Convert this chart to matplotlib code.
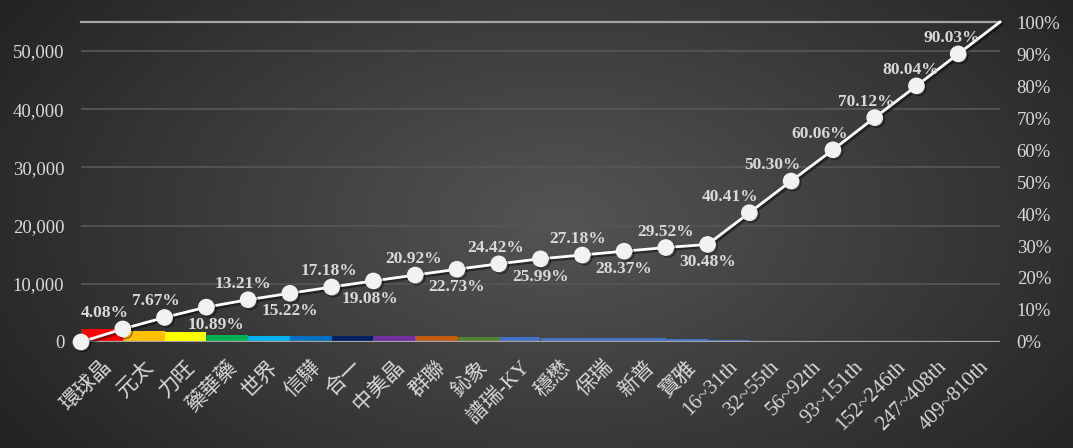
import numpy as np
import matplotlib
matplotlib.use('Agg')
import matplotlib.pyplot as plt
import matplotlib.patheffects as pe
from matplotlib.colors import LinearSegmentedColormap

categories = ['環球晶', '元太', '力旺', '藥華藥', '世界', '信驊', '合一', '中美晶', '群聯',
              '鈊象', '譜瑞-KY', '穩懋', '保瑞', '新普', '寶雅', '16~31th', '32~55th',
              '56~92th', '93~151th', '152~246th', '247~408th', '409~810th']
bar_values = [2244, 1975, 1771, 1276, 1106, 1078, 1045, 1012, 996, 930, 864, 655, 655,
              633, 528, 341, 227, 145, 94, 57, 34, 14]
cum_pct = [0, 4.08, 7.67, 10.89, 13.21, 15.22, 17.18, 19.08, 20.92, 22.73, 24.42, 25.99,
           27.18, 28.37, 29.52, 30.48, 40.41, 50.30, 60.06, 70.12, 80.04, 90.03, 100]
bar_colors = ['#FF0000', '#FFC000', '#FFFF00', '#00B050', '#00B0F0', '#0070C0', '#002060',
              '#7030A0', '#C55A11', '#548235'] + ['#4472C4'] * 12
left_ticks = [0, 10000, 20000, 30000, 40000, 50000]
left_max = 55000

# label placement (pixels): +1 above, -1 below, horizontal nudge
label_side = [0, 1, 1, -1, 1, -1, 1, -1, 1, -1, 1, -1, 1, -1, 1, -1, 1, 1, 1, 1, 1, 1, 0]
label_dx = [0, -18, -9, 10, -5, 0, -3, -3, -2, 0, -3, 0, -5, 0, 0, 0, -19, -19, -13, -8, -6, -6, 0]

serif = ['Liberation Serif', 'Noto Sans CJK TC']
txt_color = '#D9D9D9'

fig = plt.figure(figsize=(10.73, 4.48), dpi=100)

# background radial gradient
bg = fig.add_axes([0, 0, 1, 1], zorder=-10)
yy, xx = np.mgrid[0:448, 0:1073]
cx, cy = 560, 220
r = np.sqrt(((xx - cx) / 560.0) ** 2 + ((yy - cy) / 330.0) ** 2)
r = np.clip(r / 1.2, 0, 1)
cmap = LinearSegmentedColormap.from_list('bg', ['#545454', '#3c3c3c', '#232323'])
bg.imshow(r, cmap=cmap, aspect='auto', extent=[0, 1, 0, 1], vmin=0, vmax=1)
bg.axis('off')

ax = fig.add_axes([81 / 1073, 1 - 342 / 448, 919 / 1073, 320 / 448])
ax.set_facecolor('none')
n = len(categories)
x = np.arange(n) + 0.5
ax.bar(x, bar_values, width=1.0, color=bar_colors, zorder=2)
ax.set_xlim(0, n)
ax.set_ylim(0, left_max)
ax.set_yticks(left_ticks)
ax.set_yticklabels(['{:,}'.format(v) for v in left_ticks], family=serif, fontsize=13.5, color=txt_color)
for v in left_ticks[1:]:
    ax.axhline(v, color='#555555', lw=1.3, zorder=1)
ax.axhline(left_max, color='#A6A6A6', lw=1.6, zorder=1, clip_on=False)
ax.axhline(0, color='#A6A6A6', lw=1.6, zorder=3)
for s in ax.spines.values():
    s.set_visible(False)
ax.set_xticks(x)
ax.set_xticklabels(categories, family=serif, fontsize=15, color=txt_color)
ax.tick_params(axis='both', length=0)
ax.tick_params(axis='x', pad=11)
ax.tick_params(axis='y', pad=12)
for lab in ax.get_xticklabels():
    lab.set_rotation(45)
    lab.set_ha('right')
    lab.set_va('top')
    lab.set_rotation_mode('anchor')

ax2 = ax.twinx()
ax2.set_facecolor('none')
ax2.set_ylim(0, 100)
ax2.set_yticks(np.arange(0, 101, 10))
ax2.set_yticklabels(['{}%'.format(v) for v in range(0, 101, 10)], family=serif, fontsize=13.5, color=txt_color)
ax2.tick_params(axis='y', length=0, pad=12)
for s in ax2.spines.values():
    s.set_visible(False)
xl = np.arange(len(cum_pct))
shadow = [pe.SimpleLineShadow(offset=(1.5, -1.5), shadow_color='black', alpha=0.45), pe.Normal()]
ax2.plot(xl, cum_pct, color='white', lw=2, clip_on=False, zorder=5, path_effects=shadow)
ax2.plot(xl[:-1], cum_pct[:-1], ls='none', marker='o', markersize=11,
         markerfacecolor='#F2F2F2', markeredgecolor='#F2F2F2', clip_on=False, zorder=6,
         path_effects=shadow)
for i, v in enumerate(cum_pct):
    if label_side[i] == 0:
        continue
    dy = 16 if label_side[i] > 0 else -18
    ax2.annotate('{:.2f}%'.format(v), (xl[i], v), xytext=(label_dx[i], dy),
                 textcoords='offset pixels', ha='center', va='center',
                 family=serif, fontsize=12.5, fontweight='bold', color=txt_color, zorder=7)

fig.savefig('out.png', dpi=100)
